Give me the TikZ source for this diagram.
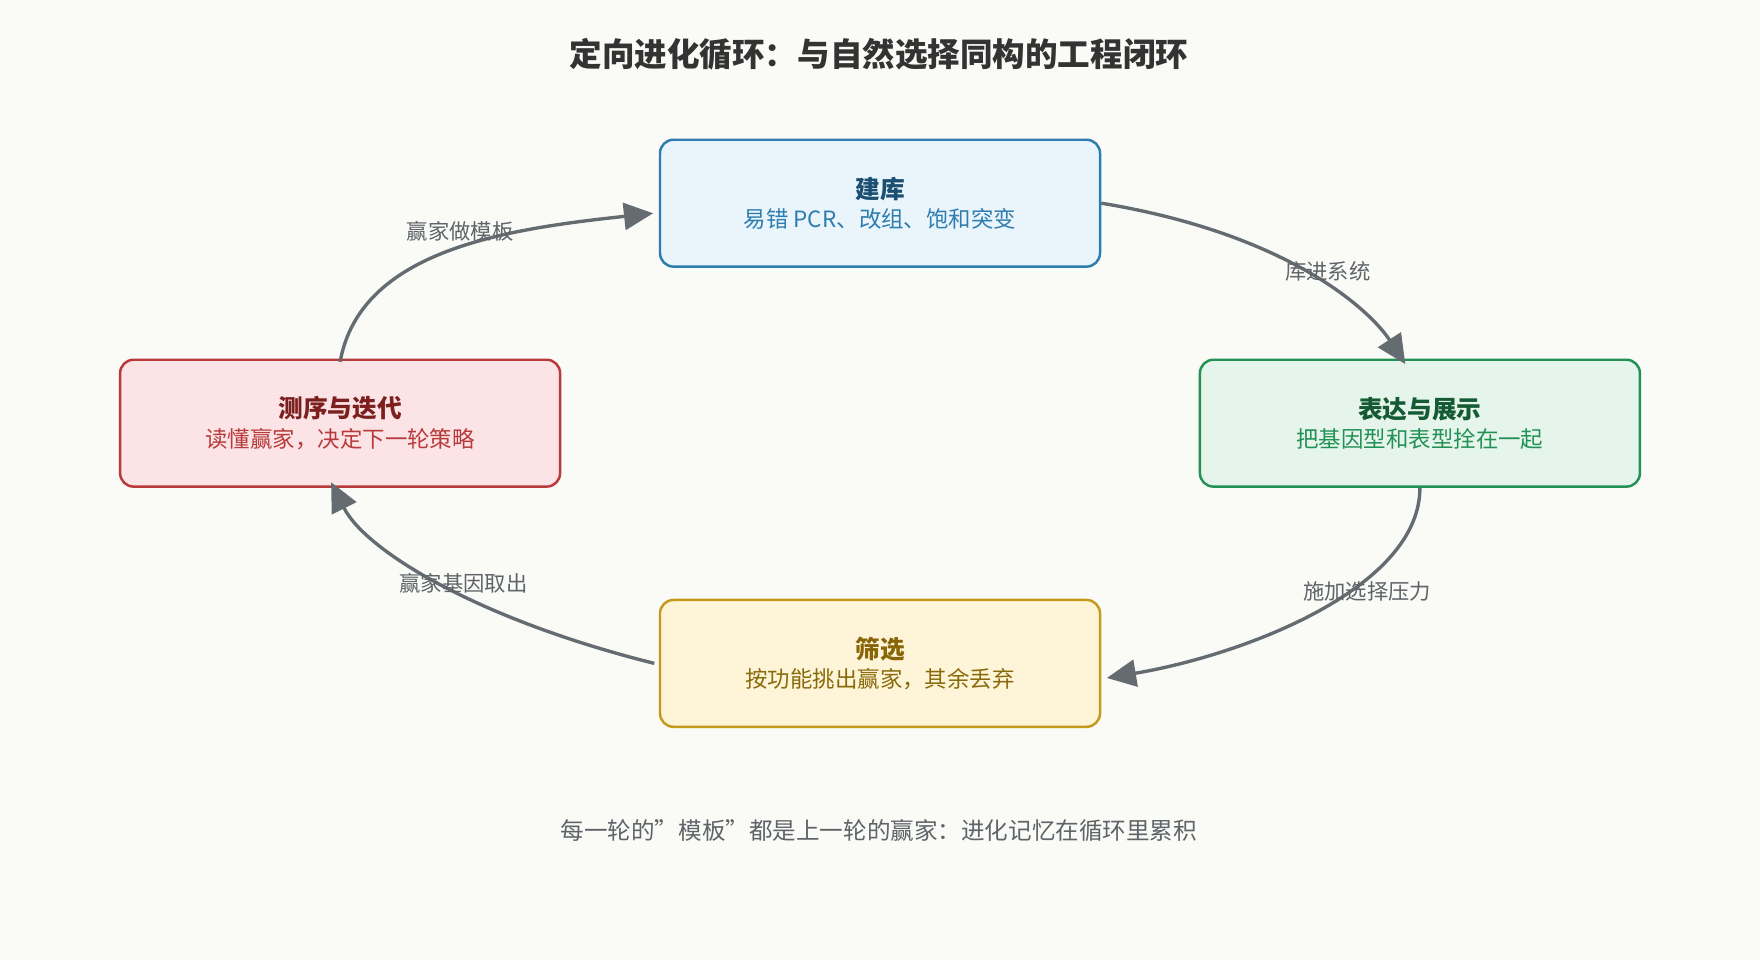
\documentclass[tikz,border=0pt]{standalone}
\usepackage{fontspec}
\setmainfont{Noto Sans CJK SC}
\usetikzlibrary{arrows.meta}
\definecolor{bg}{HTML}{FAFAF7}
\definecolor{arr}{HTML}{646C72}
\definecolor{lab}{HTML}{5F6468}
\definecolor{bB}{HTML}{2E7DAF}\definecolor{fB}{HTML}{EAF4FB}\definecolor{tB}{HTML}{1B4F72}
\definecolor{bG}{HTML}{229154}\definecolor{fG}{HTML}{E6F5EC}\definecolor{tG}{HTML}{145A32}
\definecolor{bY}{HTML}{C49A1C}\definecolor{fY}{HTML}{FEF5D9}\definecolor{tY}{HTML}{8A6508}\definecolor{sY}{HTML}{8A6A0A}
\definecolor{bR}{HTML}{B83A3A}\definecolor{fR}{HTML}{FCE4E6}\definecolor{tR}{HTML}{7B1F1F}
\tikzset{
 box/.style={draw,line width=2.2pt,rounded corners=12pt,minimum width=392pt,minimum height=113pt,align=center,inner sep=0pt},
 con/.style={draw=arr,line width=3pt,-{Triangle[length=26pt,width=24pt]}},
 lbl/.style={text=lab,font=\fontsize{19}{22}\selectfont},
}
\begin{document}
\begin{tikzpicture}[x=1pt,y=-1pt]
\fill[bg] (0,0) rectangle (1568,855);
\useasboundingbox (0,0) rectangle (1568,855);
\node[font=\bfseries\fontsize{29}{34}\selectfont,text=black!80] (title) at (783,48) {定向进化循环：与自然选择同构的工程闭环};
\node[box,draw=bB,fill=fB] (top) at (784,181) {{\color{tB}\bfseries\fontsize{22}{26}\selectfont 建库}\\[6pt]{\color{bB}\fontsize{20}{24}\selectfont 易错 PCR、改组、饱和突变}};
\node[box,draw=bG,fill=fG] (right) at (1265,377) {{\color{tG}\bfseries\fontsize{22}{26}\selectfont 表达与展示}\\[6pt]{\color{bG}\fontsize{20}{24}\selectfont 把基因型和表型拴在一起}};
\node[box,draw=bY,fill=fY] (bot) at (784,591) {{\color{tY}\bfseries\fontsize{22}{26}\selectfont 筛选}\\[6pt]{\color{sY}\fontsize{20}{24}\selectfont 按功能挑出赢家，其余丢弃}};
\node[box,draw=bR,fill=fR] (left) at (303,377) {{\color{tR}\bfseries\fontsize{22}{26}\selectfont 测序与迭代}\\[6pt]{\color{bR}\fontsize{20}{24}\selectfont 读懂赢家，决定下一轮策略}};
\coordinate (e1) at ([xshift=-13pt,yshift=-5pt]right.north);
\coordinate (e2) at ([xshift=5pt,yshift=-13pt]bot.east);
\coordinate (e3) at ([xshift=-8pt,yshift=5pt]left.south);
\coordinate (e4) at ([xshift=-5pt,yshift=-9pt]top.west);
\draw[con] (top.east) .. controls +(170,28) and +(-30,-46) .. (e1);
\draw[con] (right.south) .. controls +(0,90) and +(120,-20) .. (e2);
\draw[con] ([xshift=-4pt]bot.west) .. controls +(-160,-40) and +(30,60) .. (e3);
\draw[con] ([yshift=-3pt]left.north) .. controls +(18,-100) and +(-130,14) .. (e4);
\node[lbl] (l1) at (1183,242) {库进系统};
\node[lbl] (l2) at (1218,527) {施加选择压力};
\node[lbl] (l3) at (413,520) {赢家基因取出};
\node[lbl] (l4) at (410,206) {赢家做模板};
\node[lbl,font=\fontsize{21}{24}\selectfont] (foot) at (783,740) {每一轮的"模板"都是上一轮的赢家：进化记忆在循环里累积};
\end{tikzpicture}
\end{document}
